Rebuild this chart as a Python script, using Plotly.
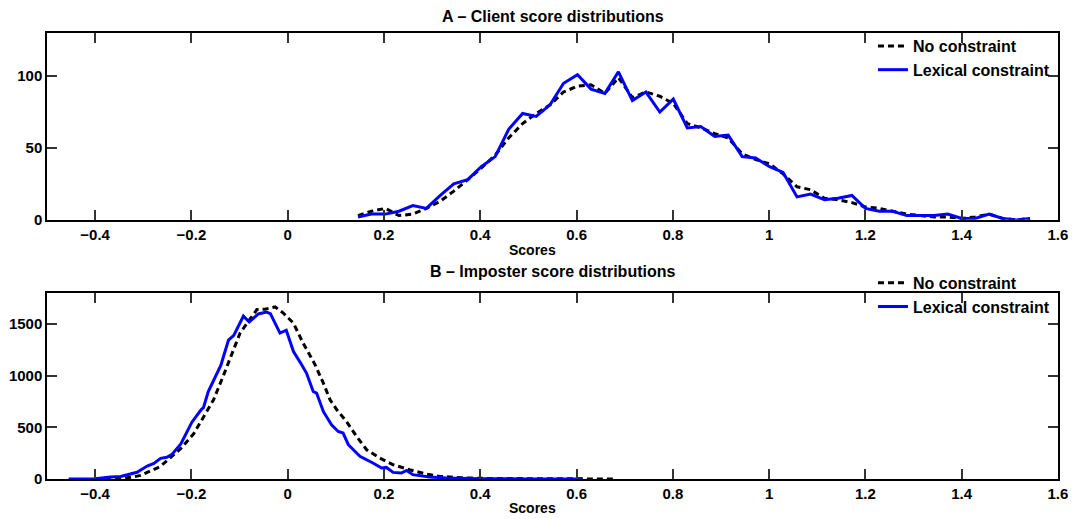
import plotly.graph_objects as go

# ---------------- DATA ----------------
# Panel A: client score distributions
client_x = [0.146, 0.174, 0.203, 0.231, 0.260, 0.288, 0.317, 0.345, 0.374, 0.402,
            0.431, 0.459, 0.488, 0.516, 0.545, 0.573, 0.602, 0.630, 0.659, 0.687,
            0.716, 0.744, 0.773, 0.801, 0.830, 0.858, 0.887, 0.915, 0.944, 0.972,
            1.001, 1.029, 1.058, 1.086, 1.115, 1.143, 1.172, 1.200, 1.229, 1.257,
            1.286, 1.314, 1.343, 1.371, 1.400, 1.428, 1.457, 1.485, 1.514, 1.542]
client_noconstraint = [3, 6, 8, 3, 4, 8, 13, 20, 28, 36,
                       45, 57, 67, 74, 80, 89, 93, 94, 88, 99,
                       85, 89, 86, 81, 67, 64, 60, 57, 46, 42,
                       39, 32, 23, 21, 15, 14, 12, 9, 8, 6,
                       4, 3, 2, 2, 1, 2, 4, 1, 0, 1]
client_lexical = [2, 4, 4, 6, 10, 8, 17, 25, 28, 37,
                  44, 63, 74, 72, 80, 95, 101, 91, 88, 103,
                  83, 89, 75, 84, 64, 65, 58, 59, 44, 43,
                  37, 33, 16, 18, 14, 15, 17, 8, 6, 6,
                  3, 3, 3, 4, 1, 1, 4, 1, 0, 1]

# Panel B: imposter score distributions
imp_nc_x = [-0.400, -0.347, -0.320, -0.306, -0.265, -0.223, -0.195, -0.182, -0.154, -0.133,
            -0.116, -0.099, -0.082, -0.064, -0.047, -0.026, -0.009, 0.012, 0.032, 0.057,
            0.074, 0.088, 0.102, 0.122, 0.143, 0.164, 0.191, 0.219, 0.253, 0.288,
            0.316, 0.360, 0.420, 0.500, 0.600, 0.680]
imp_nc_y = [0, 3, 20, 35, 120, 290, 440, 541, 767, 1008,
            1202, 1412, 1524, 1640, 1644, 1665, 1605, 1508, 1315, 1105,
            928, 767, 670, 557, 412, 283, 203, 138, 90, 48,
            25, 12, 5, 2, 1, 0]
imp_lex_x = [-0.455, -0.400, -0.368, -0.347, -0.313, -0.292, -0.278, -0.264, -0.251, -0.240,
             -0.222, -0.199, -0.180, -0.175, -0.165, -0.139, -0.123, -0.112, -0.092, -0.080,
             -0.061, -0.044, -0.036, -0.016, -0.003, 0.012, 0.029, 0.039, 0.053, 0.060,
             0.074, 0.091, 0.105, 0.115, 0.126, 0.150, 0.177, 0.195, 0.205, 0.219,
             0.236, 0.247, 0.260, 0.295, 0.330, 0.400, 0.500, 0.611]
imp_lex_y = [0, 3, 20, 25, 65, 125, 150, 200, 210, 240,
             340, 550, 670, 690, 847, 1100, 1345, 1390, 1576, 1520,
             1597, 1615, 1600, 1412, 1440, 1234, 1105, 1025, 847, 832,
             654, 525, 460, 445, 332, 219, 155, 106, 112, 64,
             58, 83, 42, 19, 10, 2, 1, 0]

x_ticks = [-0.4, -0.2, 0, 0.2, 0.4, 0.6, 0.8, 1.0, 1.2, 1.4, 1.6]
y_ticks_a = [0, 50, 100]
y_ticks_b = [0, 500, 1000, 1500]

titles = ["A \u2013 Client score distributions", "B \u2013 Imposter score distributions"]
series_names = ["No constraint", "Lexical constraint"]

# ---------------- FIGURE ----------------
FONT = "Liberation Sans, Arial, sans-serif"
fig = go.Figure()

dash_style = "6px,4px"
fig.add_trace(go.Scatter(x=client_x, y=client_noconstraint, mode="lines", name=series_names[0],
                         line=dict(color="black", width=3, dash=dash_style),
                         xaxis="x", yaxis="y", legend="legend"))
fig.add_trace(go.Scatter(x=client_x, y=client_lexical, mode="lines", name=series_names[1],
                         line=dict(color="#0000ff", width=3),
                         xaxis="x", yaxis="y", legend="legend"))
fig.add_trace(go.Scatter(x=imp_nc_x, y=imp_nc_y, mode="lines", name=series_names[0],
                         line=dict(color="black", width=3, dash=dash_style),
                         xaxis="x2", yaxis="y2", legend="legend2"))
fig.add_trace(go.Scatter(x=imp_lex_x, y=imp_lex_y, mode="lines", name=series_names[1],
                         line=dict(color="#0000ff", width=3),
                         xaxis="x2", yaxis="y2", legend="legend2"))

tickfont = dict(family=FONT, size=15, color="black", weight="bold")
axis_common = dict(showline=True, linecolor="black", linewidth=1.5, mirror="ticks",
                   ticks="inside", ticklen=10, tickwidth=1.5, tickcolor="#333",
                   showgrid=False, zeroline=False, tickfont=tickfont, automargin=False)

# The page body adds an 8px offset; figure is sized so that it fits the window.
fig.update_layout(
    width=1068, height=511,
    margin=dict(l=39, r=18, t=25, b=40, autoexpand=False),
    paper_bgcolor="white", plot_bgcolor="white",
    font=dict(family=FONT, color="black"),
    xaxis=dict(domain=[0, 1], range=[-0.5, 1.6001], tickvals=x_ticks, anchor="y", **axis_common),
    yaxis=dict(domain=[0.581, 1], range=[0, 130], tickvals=y_ticks_a, anchor="x", **axis_common),
    xaxis2=dict(domain=[0, 1], range=[-0.5, 1.6001], tickvals=x_ticks, anchor="y2", **axis_common),
    yaxis2=dict(domain=[0, 0.417], range=[0, 1800], tickvals=y_ticks_b, anchor="x2", **axis_common),
    legend=dict(x=0.997, y=1.009, xanchor="right", yanchor="top", bgcolor="rgba(255,255,255,0)",
                font=dict(family=FONT, size=16, color="black", weight="bold"),
                tracegroupgap=0, itemwidth=30),
    legend2=dict(x=0.997, y=0.478, xanchor="right", yanchor="top", bgcolor="rgba(255,255,255,0)",
                 font=dict(family=FONT, size=16, color="black", weight="bold"),
                 tracegroupgap=0, itemwidth=30),
    showlegend=True,
)

annots = [
    dict(text=titles[0], x=0.5, y=1.036, size=16),
    dict(text="Scores", x=0.48, y=0.514, size=14),
    dict(text=titles[1], x=0.5, y=0.465, size=16),
    dict(text="Scores", x=0.48, y=-0.066, size=14),
]
for a in annots:
    fig.add_annotation(text=a["text"], x=a["x"], y=a["y"], xref="paper", yref="paper",
                       xanchor="center", yanchor="middle", showarrow=False,
                       font=dict(family=FONT, size=a["size"], color="black", weight="bold"))

fig.write_html("out.html")
